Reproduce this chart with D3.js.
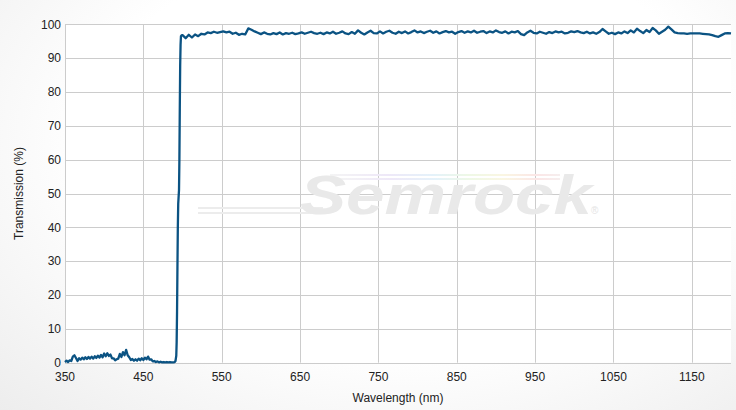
<!DOCTYPE html>
<html><head><meta charset="utf-8">
<script src="https://cdn.jsdelivr.net/npm/d3@7"></script>
<style>
html,body{margin:0;padding:0;width:736px;height:410px;overflow:hidden;}
body{background:radial-gradient(ellipse at 55% 35%, #ffffff 55%, #ededed 100%);}
svg{display:block;font-family:"Liberation Sans",Arial,sans-serif;}
</style></head><body>
<svg id="c" width="736" height="410"></svg>
<script>
// ---- data ----
const xTicks = [350,450,550,650,750,850,950,1050,1150];
const yTicks = [0,10,20,30,40,50,60,70,80,90,100];
const xTitle = "Wavelength (nm)";
const yTitle = "Transmission (%)";

// blocking region, 350-490 nm every 2 nm
const lowStart = 350, lowStep = 2;
const lowT = [0.2,0.6,0.2,0.7,0.5,1.8,2.2,1.4,0.5,1.3,
  0.9,1.5,1.0,1.6,1.1,1.7,1.2,1.8,1.2,1.9,
  1.4,2.1,1.5,2.3,1.6,2.7,1.9,2.8,2.0,2.4,
  1.3,1.3,0.7,1.0,1.2,2.6,1.7,3.1,2.2,3.8,
  2.2,1.6,0.8,1.1,0.6,1.0,0.6,1.2,0.7,1.3,
  0.8,1.5,1.0,1.8,0.9,1.0,0.4,0.5,0.2,0.4,
  0.1,0.3,0.1,0.2,0.1,0.2,0.1,0.2,0.1,0.1,0.2];

// transition edge
const edgeWl = [491,492,492.5,493,493.5,494,494.5,495,495.5,496,496.5,497,497.5,498,499];
const edgeT  = [0.5,2,6,15,28,40,47,49,51,60,75,88,94,96.5,96.8];

// pass band, 500-1200 nm every 4 nm
const passStart = 500, passStep = 4;
const passT = [96.8,95.9,96.9,96.1,97.0,96.5,97.2,97.0,97.6,97.4,97.8,97.5,97.7,97.9,97.6,97.8,97.2,97.5,96.9,97.2,
  97.0,98.8,98.4,97.9,97.5,97.1,97.6,97.2,97.0,97.4,97.1,97.6,97.0,97.4,97.2,97.5,97.1,97.3,97.6,97.2,
  97.5,97.8,97.4,97.2,97.5,97.1,97.6,97.3,97.8,97.2,97.5,97.9,97.3,97.1,97.7,97.2,98.2,97.5,97.0,97.6,
  98.1,97.4,97.3,97.9,97.3,97.8,98.1,97.5,97.2,97.8,97.4,97.9,97.3,97.7,98.2,97.6,97.9,97.4,97.8,98.1,
  97.5,97.9,97.3,97.7,98.0,97.6,97.8,97.2,97.7,98.0,97.5,97.9,97.6,98.1,97.5,97.8,98.0,97.4,97.9,97.6,
  98.2,97.7,97.5,97.9,97.3,97.8,97.6,98.0,97.1,96.8,97.6,98.1,97.5,97.3,97.8,97.5,97.2,97.7,97.4,97.9,
  97.6,97.8,97.3,97.5,97.9,97.7,98.0,97.6,97.4,97.8,97.3,97.6,97.2,97.7,98.6,97.9,97.2,97.5,97.1,97.6,
  97.3,97.9,97.4,98.2,97.6,98.7,98.0,97.4,98.3,97.7,98.9,98.2,97.2,97.8,98.4,99.3,98.5,97.6,97.4,97.3,
  97.3,97.2,97.3,97.3,97.3,97.3,97.2,97.1,97.0,96.8,96.5,96.3,96.8,97.3,97.4,97.3];

// ---- build series ----
const pts = [];
lowT.forEach((v,i)=>pts.push([lowStart+i*lowStep, v]));
edgeWl.forEach((w,i)=>pts.push([w, edgeT[i]]));
passT.forEach((v,i)=>pts.push([passStart+i*passStep, v]));

// ---- layout ----
const svg = d3.select("#c");
const m = {l:65, r:5, t:24.3, b:47.3};
const W = 736, H = 410;
const x = d3.scaleLinear().domain([350,1200]).range([m.l, W-m.r]);
const y = d3.scaleLinear().domain([0,100]).range([H-m.b, m.t]);

svg.append("rect").attr("x",m.l).attr("y",m.t).attr("width",x(1200)-m.l).attr("height",y(0)-m.t).attr("fill","#fff");

// gridlines
const g = svg.append("g");
g.selectAll(".gy").data(yTicks).join("line")
  .attr("x1",m.l).attr("x2",x(1200)).attr("y1",d=>Math.round(y(d))+0.5).attr("y2",d=>Math.round(y(d))+0.5)
  .attr("stroke","#cccccc").attr("stroke-width",1);
g.selectAll(".gx").data(xTicks).join("line")
  .attr("y1",m.t).attr("y2",y(0)).attr("x1",d=>Math.round(x(d))+0.5).attr("x2",d=>Math.round(x(d))+0.5)
  .attr("stroke","#cccccc").attr("stroke-width",1);

// watermark
const wm = svg.append("g");
const rb = svg.append("defs").append("linearGradient").attr("id","rb").attr("x1","0").attr("x2","1");
[["0%","#f4f4f4"],["25%","#eee8f8"],["45%","#e4f2fa"],["60%","#eef8e6"],["75%","#faf6e2"],["90%","#fbe6e6"],["100%","#f6eeee"]]
  .forEach(s=>rb.append("stop").attr("offset",s[0]).attr("stop-color",s[1]));
wm.append("rect").attr("x",330).attr("y",174).attr("width",230).attr("height",2).attr("fill","url(#rb)");
wm.append("rect").attr("x",335).attr("y",178).attr("width",225).attr("height",2).attr("fill","url(#rb)");
wm.append("rect").attr("x",198).attr("y",207).attr("width",125).attr("height",2).attr("fill","#ececec");
wm.append("rect").attr("x",198).attr("y",212).attr("width",120).attr("height",2).attr("fill","#ececec");
wm.append("text").attr("x",300).attr("y",214).text("Semrock")
  .attr("font-family","'Liberation Sans',Arial,sans-serif").attr("font-weight","bold").attr("font-style","italic")
  .attr("font-size",56).attr("fill","#e9e9e9").attr("textLength",292).attr("lengthAdjust","spacingAndGlyphs");
wm.append("text").attr("x",591).attr("y",214).text("®").attr("font-size",10).attr("fill","#e4e4e4");

// line
const line = d3.line().x(d=>x(d[0])).y(d=>y(d[1]));
svg.append("path").datum(pts).attr("d",line).attr("fill","none")
  .attr("stroke","#0b5383").attr("stroke-width",2.3).attr("stroke-linejoin","round");

// tick labels
svg.selectAll(".yl").data(yTicks).join("text")
  .attr("x",61).attr("y",d=>y(d)).attr("dy","0.35em").attr("text-anchor","end")
  .attr("font-size",12).attr("fill","#222").text(d=>d);
svg.selectAll(".xl").data(xTicks).join("text")
  .attr("x",d=>x(d)).attr("y",y(0)+14).attr("dy","0.35em").attr("text-anchor","middle")
  .attr("font-size",12).attr("fill","#222").text(d=>d);

// titles
svg.append("text").attr("x",(m.l+x(1200))/2).attr("y",398).attr("dy","0.35em").attr("text-anchor","middle")
  .attr("font-size",12).attr("fill","#222").text(xTitle);
svg.append("text").attr("transform",`translate(19,${(m.t+y(0))/2}) rotate(-90)`).attr("dy","0.35em")
  .attr("text-anchor","middle").attr("font-size",12).attr("fill","#222").text(yTitle);
</script>
</body></html>
